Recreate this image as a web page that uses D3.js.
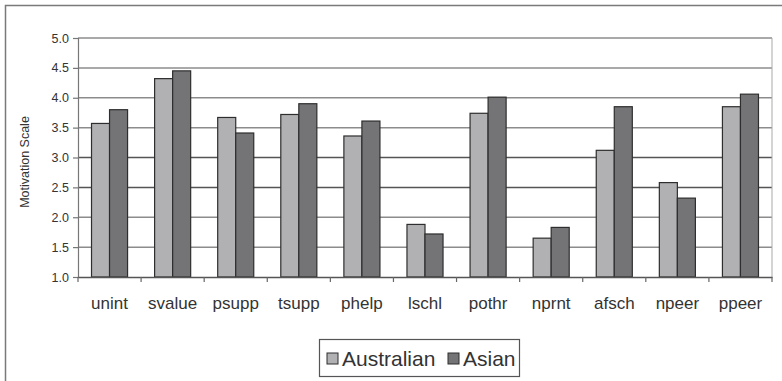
<!doctype html>
<html>
<head>
<meta charset="utf-8">
<title>Motivation Scale</title>
<script src="https://cdn.jsdelivr.net/npm/d3@7"></script>
<style>
  body { margin: 0; background: #fff; }
  text { font-family: "Liberation Sans", Arial, sans-serif; fill: #333; }
</style>
</head>
<body>
<script>
// data
var categories = ["unint", "svalue", "psupp", "tsupp", "phelp", "lschl", "pothr", "nprnt", "afsch", "npeer", "ppeer"];
var australian = [3.57, 4.32, 3.67, 3.72, 3.36, 1.88, 3.74, 1.65, 3.12, 2.58, 3.85];
var asian      = [3.80, 4.45, 3.41, 3.90, 3.61, 1.72, 4.01, 1.83, 3.85, 2.32, 4.06];
var seriesNames = ["Australian", "Asian"];
var yTicks = [1.0, 1.5, 2.0, 2.5, 3.0, 3.5, 4.0, 4.5, 5.0];

var colors = ["#b1b1b4", "#747477"];

var w = 782, h = 381;
var pLeft = 78, pRight = 772, pTop = 38, pBottom = 277;

var svg = d3.select("body").append("svg").attr("width", w).attr("height", h);

// outer frame (runs off the right and bottom edges)
svg.append("path")
  .attr("d", "M5.5," + h + "V5.5H" + w)
  .attr("fill", "none").attr("stroke", "#7a7a7a").attr("stroke-width", 1.5);

var x = d3.scaleBand().domain(categories).range([pLeft, pRight]).paddingInner(0).paddingOuter(0);
var y = d3.scaleLinear().domain([1, 5]).range([pBottom, pTop]);

// gridlines
svg.append("g").selectAll("line")
  .data(yTicks.slice(1))
  .enter().append("line")
  .attr("x1", pLeft).attr("x2", pRight)
  .attr("y1", function(d){ return y(d); })
  .attr("y2", function(d){ return y(d); })
  .attr("stroke", function(d){ return (d == 2.5 || d == 3.0) ? "#555" : "#8c8c8c"; })
  .attr("stroke-width", 1.5);

// right edge of plot area
svg.append("line")
  .attr("x1", pRight).attr("x2", pRight).attr("y1", pTop).attr("y2", pBottom)
  .attr("stroke", "#aaa").attr("stroke-width", 1);

// bars: gap width 150% as in the source spreadsheet
var bw = x.bandwidth() / 3.5;
var groups = svg.append("g").selectAll("g")
  .data(categories)
  .enter().append("g")
  .attr("transform", function(d){ return "translate(" + x(d) + ",0)"; });

groups.selectAll("rect")
  .data(function(d, i){ return [australian[i], asian[i]]; })
  .enter().append("rect")
  .attr("x", function(d, j){ return bw * 0.75 + j * bw; })
  .attr("y", function(d){ return y(d); })
  .attr("width", bw)
  .attr("height", function(d){ return y(1) - y(d); })
  .attr("fill", function(d, j){ return colors[j]; })
  .attr("stroke", "#2e2e2e")
  .attr("stroke-width", 1.2);

// y axis
var yAxis = svg.append("g")
  .attr("transform", "translate(" + pLeft + ",0)")
  .call(d3.axisLeft(y).tickValues(yTicks).tickFormat(d3.format(".1f")).tickSize(5).tickPadding(4));
yAxis.select(".domain").attr("stroke", "#777").attr("stroke-width", 1.2);
yAxis.selectAll(".tick line").attr("stroke", "#777").attr("stroke-width", 1.2);
yAxis.selectAll("text").attr("font-size", "12.5px").attr("fill", "#444")
  .attr("font-family", "Liberation Sans, Arial, sans-serif");

// x axis, ticks sit between categories
var xAxis = svg.append("g")
  .attr("transform", "translate(0," + pBottom + ")")
  .call(d3.axisBottom(x).tickSize(0).tickPadding(20));
xAxis.select(".domain").attr("stroke", "#555").attr("stroke-width", 1.5);
xAxis.selectAll("text").attr("font-size", "17px").attr("fill", "#3a3a3a")
  .attr("font-family", "Liberation Sans, Arial, sans-serif");

svg.append("g").selectAll("line")
  .data(d3.range(categories.length + 1))
  .enter().append("line")
  .attr("x1", function(i){ return pLeft + i * x.step(); })
  .attr("x2", function(i){ return pLeft + i * x.step(); })
  .attr("y1", pBottom).attr("y2", pBottom + 5)
  .attr("stroke", "#666").attr("stroke-width", 1.2);

// y title
svg.append("text")
  .attr("transform", "translate(29,162) rotate(-90)")
  .attr("text-anchor", "middle")
  .attr("font-size", "12.5px")
  .attr("fill", "#444")
  .text("Motivation Scale");

// legend
var legend = svg.append("g").attr("transform", "translate(319,339)");
legend.append("rect")
  .attr("x", 0.5).attr("y", 0.5).attr("width", 200).attr("height", 37)
  .attr("fill", "#fff").attr("stroke", "#555").attr("stroke-width", 1.2);

var lx = [8, 129];
seriesNames.forEach(function(name, j){
  legend.append("rect")
    .attr("x", lx[j]).attr("y", 14).attr("width", 11).attr("height", 11)
    .attr("fill", colors[j]).attr("stroke", "#2e2e2e").attr("stroke-width", 1);
  legend.append("text")
    .attr("x", lx[j] + 15).attr("y", 27)
    .attr("font-size", "21px")
    .attr("fill", "#222")
    .text(name);
});
</script>
</body>
</html>
